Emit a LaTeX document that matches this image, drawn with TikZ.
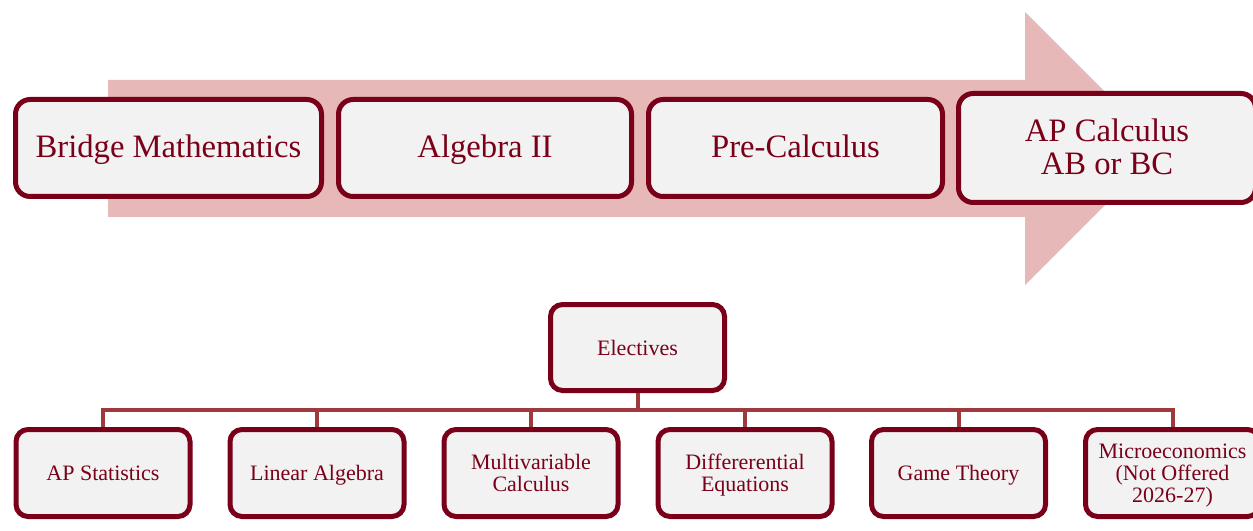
\documentclass[tikz,border=0pt]{standalone}
\usepackage{fontspec}
\setmainfont{Liberation Serif}
\definecolor{boxline}{HTML}{7A0019}
\definecolor{boxfill}{HTML}{F2F2F2}
\definecolor{txt}{HTML}{7A0019}
\definecolor{arrowfill}{HTML}{E6B8B7}
\definecolor{barline}{HTML}{9E3A3C}
\begin{document}
\begin{tikzpicture}[x=0.75pt,y=-0.75pt,
  topbox/.style={draw=boxline, fill=boxfill, line width=3.75pt, rounded corners=11pt,
    inner sep=0pt, minimum height=72.75pt},
  toptext/.style={text=txt, inner sep=0pt, anchor=base, font=\fontsize{24.5}{24}\selectfont},
  botbox/.style={draw=boxline, fill=boxfill, line width=3.75pt, rounded corners=9pt,
    inner sep=0pt, minimum width=130.5pt, minimum height=65.25pt},
  bottext/.style={text=txt, inner sep=0pt, anchor=base, font=\fontsize{16.5}{16.8}\selectfont},
  branch/.style={draw=barline, line width=3pt}]
\useasboundingbox (0,0) rectangle (1253,531);
\begin{scope}
\clip (0,0) rectangle (1253,531);
% big arrow
\fill[arrowfill] (108,80) -- (1025,80) -- (1025,12) -- (1161.5,148.5) -- (1025,285) -- (1025,217) -- (108,217) -- cycle;
% top boxes
\node[topbox, minimum width=229.5pt] (bm) at (168.5,148) {};
\node[toptext] (bmt) at (168.5,157.5) {Bridge Mathematics};
\node[topbox, minimum width=219.75pt] (a2) at (485,148) {};
\node[toptext] (a2t) at (485,158) {Algebra II};
\node[topbox, minimum width=220.5pt] (pc) at (795.5,148) {};
\node[toptext] (pct) at (795.5,158) {Pre-Calculus};
\node[topbox, minimum width=222.75pt, minimum height=81.75pt] (ap) at (1107,148) {};
\node[toptext] (apt1) at (1107,141.7) {AP Calculus};
\node[toptext] (apt2) at (1107,175) {AB or BC};
% electives tree
\node[botbox, minimum height=64.5pt] (el) at (637.5,347.5) {};
\node[bottext] (elt) at (637.5,355) {Electives};
\node[botbox] (c1) at (103,473) {};
\node[bottext] (c1t) at (103,480) {AP Statistics};
\node[botbox] (c2) at (317,473) {};
\node[bottext] (c2t) at (317,480) {Linear Algebra};
\node[botbox] (c3) at (531,473) {};
\node[bottext] (c3t1) at (531,469.5) {Multivariable};
\node[bottext] (c3t2) at (531,491) {Calculus};
\node[botbox] (c4) at (745,473) {};
\node[bottext] (c4t1) at (745,469.5) {Differerential};
\node[bottext] (c4t2) at (745,491) {Equations};
\node[botbox] (c5) at (958.5,473) {};
\node[bottext] (c5t) at (958.5,480) {Game Theory};
\node[botbox] (c6) at (1172.5,473) {};
\node[bottext] (c6t1) at (1172.5,458) {Microeconomics};
\node[bottext] (c6t2) at (1172.5,480) {(Not Offered};
\node[bottext] (c6t3) at (1172.5,502) {2026-27)};
\coordinate (bar) at (637.5,410);
\draw[branch] (el.south) -- (bar);
\foreach \c in {c1,c2,c3,c4,c5,c6}{
  \draw[branch] (bar) -| (\c.north);
}
\end{scope}
\end{tikzpicture}
\end{document}
